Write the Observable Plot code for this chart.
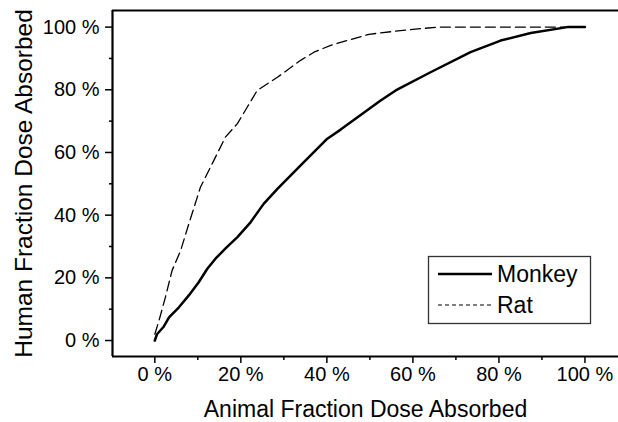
<!DOCTYPE html>
<html>
<head>
<meta charset="utf-8">
<script src="https://cdn.jsdelivr.net/npm/d3@7"></script>
<script src="https://cdn.jsdelivr.net/npm/@observablehq/plot@0.6"></script>
<style>
  html, body { margin: 0; padding: 0; background: #fff; }
  svg { font-family: "Liberation Sans", Arial, sans-serif; }
</style>
</head>
<body>
<div id="chart"></div>
<script>
// Series names
const seriesNames = ["Monkey", "Rat"];

// Monkey: animal fraction absorbed (%) vs human fraction absorbed (%)
const monkeyX = [0, 0.5, 2, 3.3, 5.6, 7.9, 10.2, 12.2, 14.1, 16.5, 19.2, 22.3, 25.3, 28.5, 33.9, 40.1, 43.2, 52.5, 56, 64.1, 73.4, 80.4, 87.4, 95.9, 100];
const monkeyY = [0, 2, 4.3, 7.4, 10.6, 14.4, 18.6, 22.9, 26.1, 29.5, 33, 37.8, 43.6, 48.4, 55.9, 64.4, 67.3, 76.6, 79.8, 85.6, 92, 95.7, 98.1, 100, 100];

// Rat
const ratX = [0, 1, 2.5, 4, 6, 7.9, 10.6, 13.7, 16.4, 19.2, 21.5, 23.8, 28.5, 33.9, 37, 40.9, 49.8, 57.1, 65.7, 80, 100];
const ratY = [2, 6.5, 14, 22.3, 28.7, 37.2, 48.9, 57.4, 64.9, 69.2, 74.5, 79.8, 84, 89.4, 92, 94.2, 97.7, 98.9, 100, 100, 100];

// Tick values
const majorTicks = [0, 20, 40, 60, 80, 100];
const minorTicks = [10, 30, 50, 70, 90];

const xTitle = "Animal Fraction Dose Absorbed";
const yTitle = "Human Fraction Dose Absorbed";

const monkey = monkeyX.map((x, i) => ({x, y: monkeyY[i]}));
const rat = ratX.map((x, i) => ({x, y: ratY[i]}));

const xDomain = [-9.84, 107.8];
const yDomain = [-5.1, 105.3];

const fmt = d => d + " %";

const chart = Plot.plot({
  width: 618,
  height: 422,
  marginLeft: 112,
  marginRight: 0,
  marginTop: 10,
  marginBottom: 66,
  style: {fontFamily: "Liberation Sans, Arial, sans-serif", color: "#000", background: "#fff"},
  x: {domain: xDomain},
  y: {domain: yDomain},
  marks: [
    Plot.axisX(majorTicks, {tickSize: 7, tickPadding: 3, tickFormat: fmt, fontSize: 20, strokeWidth: 1.5, label: xTitle, labelAnchor: "center", labelArrow: "none", labelOffset: 60}),
    Plot.axisX(minorTicks, {tickSize: 4, text: null, label: null, strokeWidth: 1.5}),
    Plot.axisY(majorTicks, {tickSize: 7, tickPadding: 6, tickFormat: fmt, fontSize: 20, strokeWidth: 1.5, label: yTitle, labelAnchor: "center", labelArrow: "none", labelOffset: 98}),
    Plot.axisY(minorTicks, {tickSize: 3, text: null, label: null, strokeWidth: 1.5}),
    Plot.ruleY([yDomain[0]], {strokeWidth: 2.2}),
    Plot.ruleY([yDomain[1]], {strokeWidth: 2.2}),
    Plot.ruleX([xDomain[0]], {strokeWidth: 2.2}),
    Plot.line(rat, {x: "x", y: "y", stroke: "#000", strokeWidth: 1.3, strokeDasharray: "10,5"}),
    Plot.line(monkey, {x: "x", y: "y", stroke: "#000", strokeWidth: 2.5})
  ]
});

// Enlarge axis titles
d3.select(chart).selectAll("g[aria-label='x-axis label'] text").style("font-size", "23px");
d3.select(chart).selectAll("g[aria-label='y-axis label'] text").style("font-size", "24.5px");

// Legend (inside plot, drawn in SVG)
const svg = d3.select(chart);
const lg = svg.append("g").attr("class", "legend").attr("text-anchor", "start");
lg.append("rect").attr("x", 428.5).attr("y", 256.5).attr("width", 162).attr("height", 67)
  .attr("fill", "#fff").attr("stroke", "#333").attr("stroke-width", 1.3);
const rows = [
  {name: seriesNames[0], y: 274, width: 2.5, dash: null},
  {name: seriesNames[1], y: 305, width: 1.2, dash: "4,3"}
];
rows.forEach(r => {
  lg.append("line").attr("x1", 438).attr("x2", 492).attr("y1", r.y).attr("y2", r.y)
    .attr("stroke", "#000").attr("stroke-width", r.width).attr("stroke-dasharray", r.dash);
  lg.append("text").attr("x", 497).attr("y", r.y).attr("dy", "0.35em")
    .attr("text-anchor", "start")
    .attr("font-size", 23).attr("fill", "#000").text(r.name);
});

document.getElementById("chart").appendChild(chart);
</script>
</body>
</html>
